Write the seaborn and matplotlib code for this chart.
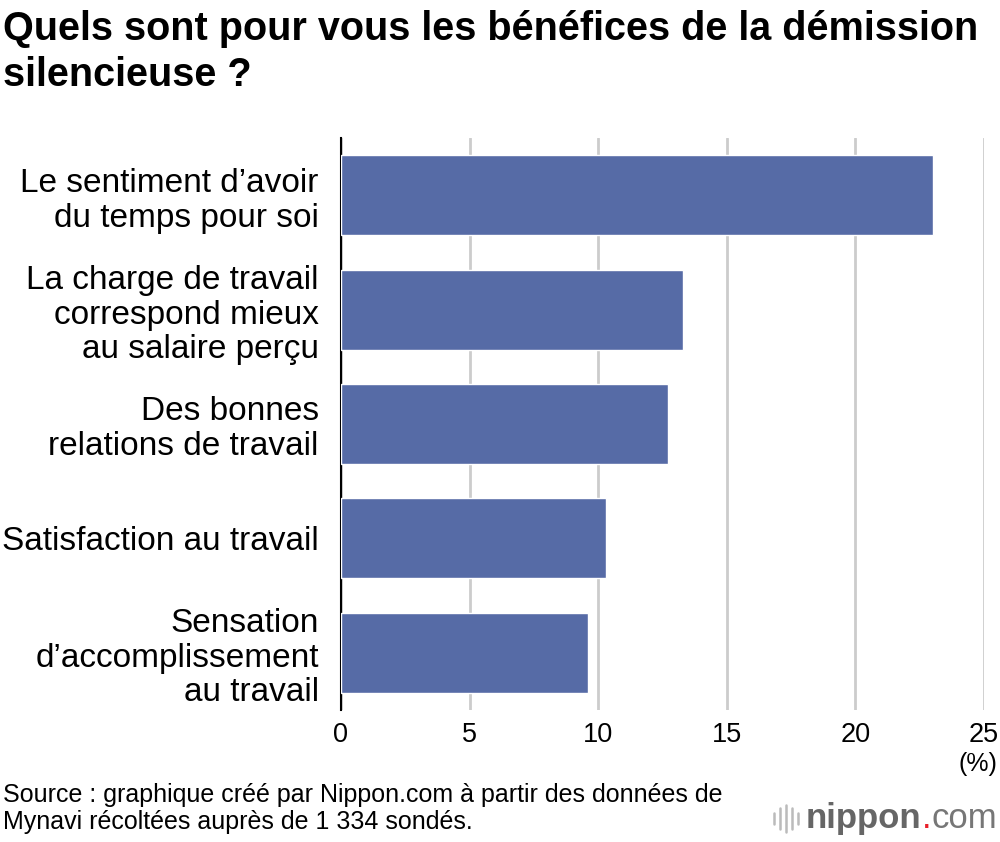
import matplotlib.pyplot as plt
import seaborn as sns
from matplotlib.lines import Line2D

categories = [
    "Le sentiment d\u2019avoir\ndu temps pour soi",
    "La charge de travail\ncorrespond mieux\nau salaire per\u00e7u",
    "Des bonnes\nrelations de travail",
    "Satisfaction au travail",
    "Sensation\nd\u2019accomplissement\nau travail",
]
values = [23.0, 13.3, 12.7, 10.3, 9.6]
xticks = [0, 5, 10, 15, 20, 25]

sns.set_style("white")
plt.rcParams['font.family'] = ['Liberation Sans', 'DejaVu Sans']
plt.rcParams['text.color'] = 'black'
plt.rcParams['xtick.color'] = 'black'
plt.rcParams['ytick.color'] = 'black'

fig = plt.figure(figsize=(10, 8.42), dpi=100)
ax = fig.add_axes([0.341, 0.157, 0.643, 0.679])

sns.barplot(x=values, y=categories, orient='h', color='#566ba6', saturation=1,
            width=0.7, ax=ax, zorder=3)

ax.set_xlim(0, 25)
ax.set_ylim(4.5, -0.5)
ax.set_xticks(xticks)
ax.set_xticklabels([str(t) for t in xticks], fontsize=19.5)
ax.grid(axis='x', color='#cccccc', linewidth=2, zorder=0)
ax.tick_params(axis='x', length=0, pad=9)
ax.tick_params(axis='y', length=0, pad=16, labelsize=24)
for lbl in ax.get_yticklabels():
    lbl.set_linespacing(1.16)
ax.set_xlabel('')
ax.set_ylabel('')
for s in ['top', 'right', 'bottom']:
    ax.spines[s].set_visible(False)
ax.spines['left'].set_color('black')
ax.spines['left'].set_linewidth(1.5)

fig.text(0.003, 0.988, "Quels sont pour vous les b\u00e9n\u00e9fices de la d\u00e9mission\nsilencieuse ?",
         fontsize=28.5, fontweight='bold', va='top', ha='left', linespacing=1.27)
fig.text(0.997, 0.093, "(%)", fontsize=18, ha='right', va='center')
fig.text(0.003, 0.040, "Source : graphique cr\u00e9\u00e9 par Nippon.com \u00e0 partir des donn\u00e9es de\n"
         "Mynavi r\u00e9colt\u00e9es aupr\u00e8s de 1 334 sond\u00e9s.",
         fontsize=18, ha='left', va='center', linespacing=1.15)

# logo
for i, h in enumerate([0.014, 0.024, 0.032, 0.024, 0.014]):
    x = 0.774 + i * 0.006
    fig.add_artist(Line2D([x, x], [0.028 - h / 2, 0.028 + h / 2], color='#bbbbbb', linewidth=1.8))
t1 = fig.text(0.806, 0.028, "nippon", fontsize=25, fontweight='bold', color='#666666', va='center', ha='left')
fig.canvas.draw()
bb = t1.get_window_extent()
t2 = fig.text(bb.x1 / fig.bbox.width, 0.028, ".", fontsize=25, color='#e8202a', va='center', ha='left')
bb2 = t2.get_window_extent()
fig.text(bb2.x1 / fig.bbox.width, 0.028, "com", fontsize=25, color='#777777', va='center', ha='left')

fig.savefig("out.png", dpi=100)
